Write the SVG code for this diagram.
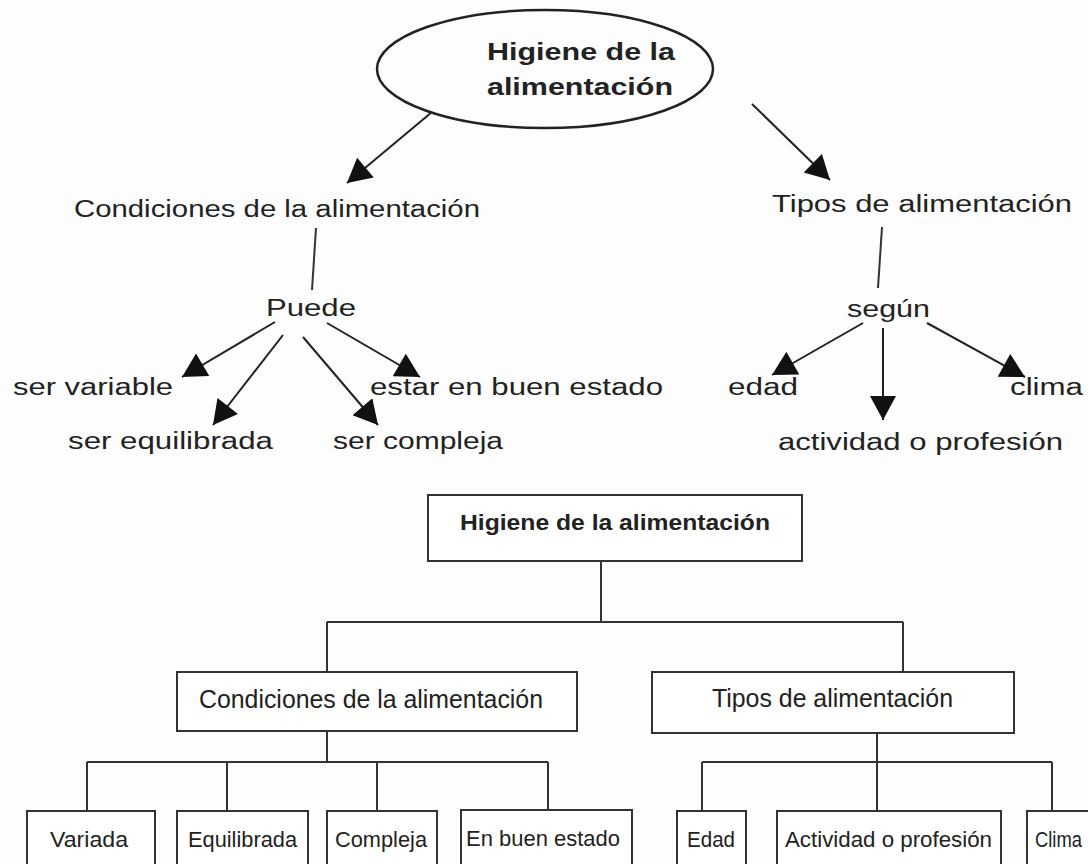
<svg xmlns="http://www.w3.org/2000/svg" width="1088" height="864" viewBox="0 0 1088 864">
<defs>
<marker id="ah" markerUnits="userSpaceOnUse" markerWidth="26" markerHeight="26" viewBox="0 0 24 26" refX="24" refY="13" orient="auto">
<path d="M0,0 L24,13 L0,26 z" fill="#111"/>
</marker>
<style>
.t{font-family:"Liberation Sans",Arial,sans-serif;fill:#222;}
.top{font-size:23px;}
.b{font-weight:bold;}
.leaf{font-size:22px;}
.mid{font-size:25px;}
.box{fill:#fff;stroke:#333;stroke-width:2;}
.ln{stroke:#333;stroke-width:2;fill:none;}
.ar{stroke:#222;stroke-width:2;fill:none;marker-end:url(#ah);}
</style>
</defs>
<rect width="1088" height="864" fill="#fdfdfd"/>

<g id="connectors">
<line class="ar" x1="432" y1="112" x2="347" y2="183"/>
<line class="ar" x1="752" y1="104" x2="830" y2="180"/>
<line class="ln" x1="316" y1="228" x2="312" y2="290"/>
<line class="ln" x1="882" y1="227" x2="878" y2="288"/>
<line class="ar" x1="275" y1="322" x2="182" y2="377"/>
<line class="ar" x1="283" y1="335" x2="213" y2="425"/>
<line class="ar" x1="303" y1="337" x2="378" y2="425"/>
<line class="ar" x1="327" y1="323" x2="420" y2="377"/>
<line class="ar" x1="863" y1="323" x2="772" y2="375"/>
<line class="ar" x1="883" y1="328" x2="883" y2="420"/>
<line class="ar" x1="927" y1="323" x2="1025" y2="377"/>
<path class="ln" d="M601,561 V622 M327,622 H903 M327,622 V672 M903,622 V672"/>
<path class="ln" d="M327,731 V762 M87,762 H548 M87,762 V811 M227,762 V811 M377,762 V811 M548,762 V811"/>
<path class="ln" d="M877,733 V762 M702,762 H1052 M702,762 V811 M877,762 V811 M1052,762 V811"/>
</g>

<g id="n-higiene-top">
<ellipse cx="545" cy="69" rx="168" ry="59" fill="none" stroke="#222" stroke-width="2.5"/>
<text class="t top b" x="487" y="60" textLength="188" lengthAdjust="spacingAndGlyphs">Higiene de la</text>
<text class="t top b" x="487" y="95" textLength="186" lengthAdjust="spacingAndGlyphs">alimentación</text>
</g>
<g id="n-condiciones-top"><text class="t top" x="74" y="217" textLength="406" lengthAdjust="spacingAndGlyphs">Condiciones de la alimentación</text></g>
<g id="n-tipos-top"><text class="t top" x="772" y="212" textLength="300" lengthAdjust="spacingAndGlyphs">Tipos de alimentación</text></g>
<g id="n-puede"><text class="t top" x="266" y="316" textLength="90" lengthAdjust="spacingAndGlyphs">Puede</text></g>
<g id="n-segun"><text class="t top" x="847" y="317" textLength="83" lengthAdjust="spacingAndGlyphs">según</text></g>
<g id="n-variable"><text class="t top" x="13" y="395" textLength="160" lengthAdjust="spacingAndGlyphs">ser variable</text></g>
<g id="n-estar"><text class="t top" x="370" y="395" textLength="293" lengthAdjust="spacingAndGlyphs">estar en buen estado</text></g>
<g id="n-equilibrada"><text class="t top" x="68" y="449" textLength="205" lengthAdjust="spacingAndGlyphs">ser equilibrada</text></g>
<g id="n-compleja"><text class="t top" x="333" y="449" textLength="170" lengthAdjust="spacingAndGlyphs">ser compleja</text></g>
<g id="n-edad"><text class="t top" x="728" y="395" textLength="70" lengthAdjust="spacingAndGlyphs">edad</text></g>
<g id="n-clima"><text class="t top" x="1010" y="395" textLength="73" lengthAdjust="spacingAndGlyphs">clima</text></g>
<g id="n-actividad"><text class="t top" x="778" y="450" textLength="285" lengthAdjust="spacingAndGlyphs">actividad o profesión</text></g>

<g id="b-higiene">
<rect class="box" x="428" y="495" width="374" height="66"/>
<text class="t b" style="font-size:22px" x="460" y="530" textLength="310" lengthAdjust="spacingAndGlyphs">Higiene de la alimentación</text>
</g>
<g id="b-condiciones">
<rect class="box" x="177" y="672" width="400" height="59"/>
<text class="t mid" x="199" y="708" textLength="344" lengthAdjust="spacingAndGlyphs">Condiciones de la alimentación</text>
</g>
<g id="b-tipos">
<rect class="box" x="652" y="672" width="362" height="61"/>
<text class="t mid" x="712" y="707" textLength="241" lengthAdjust="spacingAndGlyphs">Tipos de alimentación</text>
</g>
<g id="b-variada">
<rect class="box" x="27" y="811" width="128" height="80"/>
<text class="t leaf" x="50" y="847" textLength="78" lengthAdjust="spacingAndGlyphs">Variada</text>
</g>
<g id="b-equilibrada">
<rect class="box" x="177" y="811" width="131" height="80"/>
<text class="t leaf" x="188" y="847" textLength="109" lengthAdjust="spacingAndGlyphs">Equilibrada</text>
</g>
<g id="b-compleja">
<rect class="box" x="327" y="811" width="110" height="80"/>
<text class="t leaf" x="335" y="847" textLength="92" lengthAdjust="spacingAndGlyphs">Compleja</text>
</g>
<g id="b-buen-estado">
<rect class="box" x="461" y="810" width="171" height="80"/>
<text class="t leaf" x="466" y="846" textLength="154" lengthAdjust="spacingAndGlyphs">En buen estado</text>
</g>
<g id="b-edad">
<rect class="box" x="677" y="811" width="69" height="80"/>
<text class="t leaf" x="687" y="847" textLength="48" lengthAdjust="spacingAndGlyphs">Edad</text>
</g>
<g id="b-actividad">
<rect class="box" x="777" y="811" width="224" height="80"/>
<text class="t leaf" x="785" y="847" textLength="207" lengthAdjust="spacingAndGlyphs">Actividad o profesión</text>
</g>
<g id="b-clima">
<rect class="box" x="1027" y="811" width="80" height="80"/>
<text class="t leaf" x="1035" y="847" textLength="47" lengthAdjust="spacingAndGlyphs">Clima</text>
</g>
</svg>
